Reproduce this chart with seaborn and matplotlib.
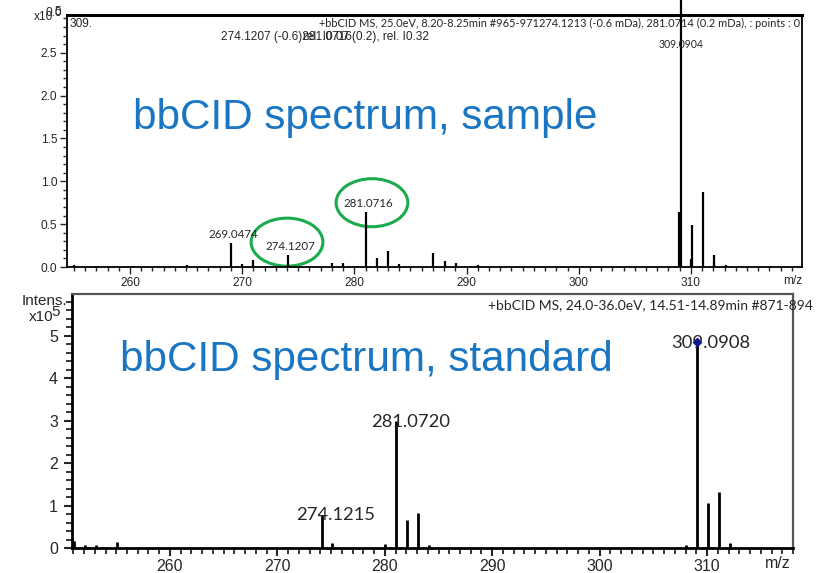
import numpy as np
import pandas as pd
import seaborn as sns
import matplotlib.pyplot as plt
from matplotlib.patches import Ellipse
from matplotlib.ticker import MultipleLocator

# --- data (intensity in units of 1e5) ---
sample_mz = [255.0, 257.0, 258.0, 265.1, 269.0474, 270.0, 271.0, 274.1207, 278.0, 279.0,
             280.0, 281.0716, 282.0, 283.0, 284.0, 287.0, 288.1, 289.1, 291.0,
             308.98, 309.0904, 309.97, 310.08, 311.07, 312.05, 312.1, 313.1, 317.1]
sample_int = [0.02, 0.01, 0.01, 0.02, 0.28, 0.04, 0.08, 0.14, 0.05, 0.05,
              0.01, 0.64, 0.10, 0.19, 0.035, 0.16, 0.07, 0.045, 0.02,
              0.64, 3.25, 0.09, 0.49, 0.87, 0.05, 0.14, 0.02, 0.01]
sample_labels = ["269.0474", "274.1207", "281.0716"]
sample_circled = ["274.1207", "281.0716"]
circle_shift = [(-0.12, 0.15), (0.5, 0.11)]

std_mz = [251.1, 252.1, 253.1, 254.1, 255.1, 256.1, 257.1, 266.1, 268.1, 273.1,
          274.1215, 275.1, 280.0, 281.0720, 282.07, 283.07, 284.07, 308.0, 309.0908,
          309.7, 310.09, 311.09, 312.09]
std_int = [0.16, 0.06, 0.07, 0.03, 0.13, 0.02, 0.02, 0.02, 0.02, 0.02,
           0.78, 0.12, 0.10, 2.98, 0.67, 0.82, 0.06, 0.06, 4.85,
           0.03, 1.07, 1.32, 0.12]
std_labels = ["274.1215", "281.0720", "309.0908"]

sample = pd.DataFrame({"mz": sample_mz, "intens": sample_int})
std = pd.DataFrame({"mz": std_mz, "intens": std_int})

sns.set_style("ticks")
plt.rcParams["font.family"] = ["Liberation Sans", "DejaVu Sans"]
calib = ["Lato", "DejaVu Sans"]
blue = "#1a76c2"
green = "#1aab4c"

fig = plt.figure(figsize=(8.25, 5.73), dpi=100)
ax1 = fig.add_axes([67 / 825, 1 - 267 / 573, 735 / 825, 252 / 573])
ax2 = fig.add_axes([72 / 825, 1 - 548 / 573, 721 / 825, 254 / 573])

# --- top: sample ---
ax1.vlines(sample["mz"], 0, sample["intens"], color="black", lw=1.6, clip_on=False)
ax1.set_xlim(254.39, 319.9)
ax1.set_ylim(0, 2.94)
ax1.yaxis.set_major_locator(MultipleLocator(0.5))
ax1.yaxis.set_minor_locator(MultipleLocator(0.1))
ax1.xaxis.set_major_locator(MultipleLocator(10))
ax1.xaxis.set_minor_locator(MultipleLocator(1))
ax1.yaxis.set_major_formatter(lambda v, p: f"{v:.1f}")
ax1.tick_params(axis="both", which="major", length=5, width=1, labelsize=8.6, pad=2)
ax1.tick_params(axis="both", which="minor", length=3, width=1)
for s in ["left", "bottom", "right"]:
    ax1.spines[s].set_color("black")
    ax1.spines[s].set_linewidth(1.3)
ax1.spines["top"].set_linewidth(2.2)
ax1.spines["top"].set_color("black")

for lab in sample_labels:
    i = sample_mz.index(float(lab))
    ax1.annotate(lab, (sample_mz[i], sample_int[i]), xytext=(1.5, 2),
                 textcoords="offset points", ha="center", va="bottom",
                 fontsize=8.3, family=calib)
for lab, (dx, dy) in zip(sample_circled, circle_shift):
    i = sample_mz.index(float(lab))
    ax1.add_patch(Ellipse((sample_mz[i] + dx, sample_int[i] + dy), 6.4, 0.56,
                          fill=False, ec=green, lw=2.2, clip_on=False))
ax1.text(309.0904, 2.6, "309.0904", ha="center", va="center", fontsize=7.6, family=calib)
ax1.text(0.09, 0.59, "bbCID spectrum, sample", transform=ax1.transAxes,
         color=blue, fontsize=30.4, va="center", ha="left")
ax1.text(1.0, -0.055, "m/z", transform=ax1.transAxes, ha="right", va="center", fontsize=8.6)

fig.text(800 / 825, 1 - 23 / 573,
         "+bbCID MS, 25.0eV, 8.20-8.25min #965-971274.1213 (-0.6 mDa), 281.0714 (0.2 mDa), : points : 0",
         ha="right", va="center", fontsize=7.95, family=calib)
fig.text(221 / 825, 1 - 37 / 573, "274.1207 (-0.6)281.0716(0.2), rel. I0.32",
         ha="left", va="center", fontsize=8.6)
fig.text(303 / 825, 1 - 37 / 573, "rel. I0.07", ha="left", va="center", fontsize=8.6)
fig.text(70 / 825, 1 - 24 / 573, "309.", ha="left", va="center", fontsize=8.6)
fig.text(62 / 825, 1 - 13 / 573, "0.0", ha="right", va="center", fontsize=8.6)
fig.text(53 / 825, 1 - 17 / 573, "x10", ha="right", va="center", fontsize=8.6)
fig.text(54 / 825, 1 - 12 / 573, "5", ha="left", va="center", fontsize=8.6)

# --- bottom: standard ---
ax2.vlines(std["mz"], 0, std["intens"], color="black", lw=2)
top = std.loc[std["intens"].idxmax()]
sns.scatterplot(x=[top["mz"]], y=[top["intens"]], marker="D", color="#0a1a8c",
                s=22, ax=ax2, zorder=5, clip_on=False, edgecolor="#0a1a8c")
ax2.set_xlim(250.88, 318.0)
ax2.set_ylim(0, 5.98)
ax2.yaxis.set_major_locator(MultipleLocator(1))
ax2.yaxis.set_minor_locator(MultipleLocator(0.2))
ax2.xaxis.set_major_locator(MultipleLocator(10))
ax2.xaxis.set_minor_locator(MultipleLocator(1))
ax2.tick_params(axis="both", which="major", length=6, width=1.5, labelsize=11.5, pad=4)
ax2.tick_params(axis="x", which="major", pad=2)
ax2.tick_params(axis="both", which="minor", length=4, width=1.3)
for s in ["left", "bottom"]:
    ax2.spines[s].set_color("black")
    ax2.spines[s].set_linewidth(2)
for s in ["top", "right"]:
    ax2.spines[s].set_color("#555555")
    ax2.spines[s].set_linewidth(1.6)
ax2.set_xlabel("")
ax2.set_ylabel("")

for lab in std_labels:
    i = std_mz.index(float(lab))
    ax2.annotate(lab, (std_mz[i], std_int[i]), xytext=(10, -4),
                 textcoords="offset points", ha="center", va="baseline",
                 fontsize=13.2, family=calib)
ax2.text(0.066, 0.74, "bbCID spectrum, standard", transform=ax2.transAxes,
         color=blue, fontsize=30.4, va="center", ha="left")
ax2.text(0.997, -0.06, "m/z", transform=ax2.transAxes, ha="right", va="center", fontsize=11.5)

fig.text(813 / 825, 1 - 305 / 573, "+bbCID MS, 24.0-36.0eV, 14.51-14.89min #871-894",
         ha="right", va="center", fontsize=10, family=calib)
fig.text(67 / 825, 1 - 301 / 573, "Intens.", ha="right", va="center", fontsize=11)
fig.text(53 / 825, 1 - 317 / 573, "x10", ha="right", va="center", fontsize=11)
fig.text(51 / 825, 1 - 312 / 573, "5", ha="left", va="center", fontsize=11)

fig.savefig("out.png", dpi=100)
